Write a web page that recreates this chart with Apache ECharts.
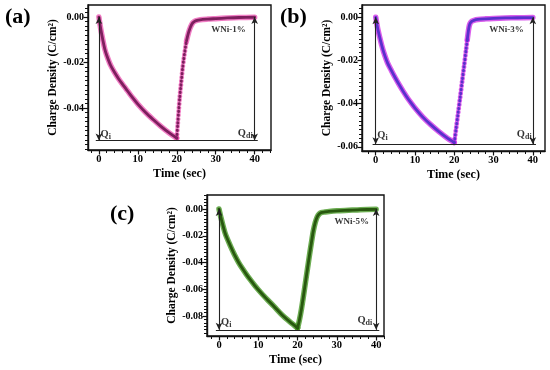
<!DOCTYPE html>
<html><head><meta charset="utf-8">
<script src="https://cdn.jsdelivr.net/npm/echarts@6/dist/echarts.min.js"></script>
<style>html,body{margin:0;padding:0;background:#fff}#c{width:550px;height:370px}</style>
</head><body><div id="c"></div>
<script>
// ---- data ----
const chargeTimes = [0,0.5,1,1.5,2,3,4,5,6,7,8,9,10,12,14,16,18,20];
const chargeA = [0,-0.0055,-0.0100,-0.0140,-0.0168,-0.0212,-0.0243,-0.0270,-0.0294,-0.0317,-0.0340,-0.0362,-0.0383,-0.0420,-0.0452,-0.0482,-0.0509,-0.0533];
const chargeB = [0,-0.0052,-0.0092,-0.0128,-0.0160,-0.0211,-0.0247,-0.0281,-0.0313,-0.0343,-0.0371,-0.0396,-0.0420,-0.0462,-0.0497,-0.0528,-0.0556,-0.0580];
const chargeC = [0,-0.0065,-0.0122,-0.0175,-0.0215,-0.0282,-0.0345,-0.0400,-0.0447,-0.0490,-0.0530,-0.0568,-0.0603,-0.0668,-0.0728,-0.0790,-0.0842,-0.0890];

const riseTimesA = [20,20.25,20.5,20.75,21,21.25,21.5,21.75,22,22.25,22.5];
const riseA = [-0.0533,-0.0470,-0.0410,-0.0355,-0.0310,-0.0268,-0.0225,-0.0190,-0.0160,-0.0130,-0.0105];
const recTimesA = [22.5,23,23.5,24,24.5,25,26,28,30,33,36,40];
const recA = [-0.0105,-0.0070,-0.0045,-0.0028,-0.0020,-0.0016,-0.0012,-0.0009,-0.0007,-0.0004,-0.0002,-0.0001];

const riseTimesB = [20,20.5,21,21.5,22,22.5,23,23.3];
const riseB = [-0.0580,-0.0510,-0.0440,-0.0370,-0.0297,-0.0225,-0.0150,-0.0105];
const recTimesB = [23.3,23.5,23.75,24,24.25,24.5,25,26,28,30,33,36,40];
const recB = [-0.0105,-0.0075,-0.0045,-0.0029,-0.0022,-0.0018,-0.0014,-0.0010,-0.0007,-0.0005,-0.0003,-0.0002,-0.0001];

const recTimesC = [20,20.5,21,21.5,22,22.5,23,23.5,24,24.5,25,25.5,26,27,28,30,33,36,40];
const recC = [-0.0890,-0.0825,-0.0745,-0.0650,-0.0550,-0.0450,-0.0350,-0.0255,-0.0165,-0.0100,-0.0058,-0.0037,-0.0027,-0.0022,-0.0018,-0.0013,-0.0009,-0.0005,-0.0002];

const xTickLabels = [0,10,20,30,40];
const yTickLabelsA = [0,-0.02,-0.04];
const yTickLabelsB = [0,-0.02,-0.04,-0.06];
const yTickLabelsC = [0,-0.02,-0.04,-0.06,-0.08];
const baseLevels = [-0.0543,-0.0588,-0.0903];   // horizontal Qi-Qdi line
const sampleNames = ['WNi-1%','WNi-3%','WNi-5%'];
const panelLetters = ['(a)','(b)','(c)'];

// ---- helpers ----
const zip = (ts, vs) => ts.map((t, i) => [t, vs[i]]);
const FONT = 'Liberation Serif';
function range(a, b, step) { const out = []; const s = Math.ceil(a / step - 1e-9); const e = Math.floor(b / step + 1e-9); for (let k = s; k <= e; k++) out.push(+(k * step).toFixed(6)); return out; }

const panels = [
  { grid:{left:88, top:5, width:183, height:145}, x:[-2.8,44.2], y:[-0.0585,0.0053], yTicks:yTickLabelsA, yMinor:0.002, nameGap:29,
    halo:'rgba(232,55,165,0.65)', core:'#7e1f5e',
    segs:[{d:zip(chargeTimes,chargeA)},{d:zip(riseTimesA,riseA),dotted:true},{d:zip(recTimesA,recA)}],
    qi:[0.4,-0.0516], qdi:[39.5,-0.0510], tag:[33.3,-0.0057] },
  { grid:{left:362, top:5, width:183, height:146}, x:[-3.5,43.1], y:[-0.0619,0.0057], yTicks:yTickLabelsB, yMinor:0.002, nameGap:27,
    halo:'rgba(205,40,230,0.75)', core:'#5a30cc',
    segs:[{d:zip(chargeTimes,chargeB)},{d:zip(riseTimesB,riseB),dotted:true},{d:zip(recTimesB,recB)}],
    qi:[0.4,-0.0546], qdi:[39.7,-0.0541], tag:[33.3,-0.0056] },
  { grid:{left:207, top:195, width:177, height:141}, x:[-3.06,42.0], y:[-0.0949,0.0105], yTicks:yTickLabelsC, yMinor:0.0025, nameGap:29,
    halo:'rgba(60,145,25,0.75)', core:'#28580f',
    segs:[{d:zip(chargeTimes,chargeC)},{d:zip(recTimesC,recC)}],
    qi:[0.5,-0.0845], qdi:[39.0,-0.0830], tag:[33.8,-0.0095] }
];

const grids = [], xAxes = [], yAxes = [], series = [], graphics = [];
const txt = { fontFamily:FONT, fontWeight:'bold', color:'#000' };
panels.forEach((p, i) => {
  grids.push(Object.assign({ show:true, borderColor:'#111', borderWidth:1.4, backgroundColor:'#fff' }, p.grid));
  const xi = xAxes.length, yi = yAxes.length;
  xAxes.push({ gridIndex:i, type:'value', min:p.x[0], max:p.x[1], position:'bottom',
    axisLine:{show:true, onZero:false, lineStyle:{color:'#111', width:1.4}},
    axisTick:{show:true, customValues:xTickLabels, length:4.5, lineStyle:{color:'#111', width:1.2}},
    axisLabel:Object.assign({ customValues:xTickLabels, fontSize:10.5, margin:4 }, txt),
    splitLine:{show:false},
    name:'Time (sec)', nameLocation:'middle', nameGap:18, nameTextStyle:Object.assign({fontSize:12}, txt) });
  xAxes.push({ gridIndex:i, type:'value', min:p.x[0], max:p.x[1], position:'bottom', offset:0,
    axisLine:{show:false, onZero:false}, axisTick:{show:true, customValues:range(p.x[0], p.x[1], 2).filter(v => v % 10 !== 0), length:3, lineStyle:{color:'#111', width:1}},
    axisLabel:{show:false}, splitLine:{show:false} });
  yAxes.push({ gridIndex:i, type:'value', min:p.y[0], max:p.y[1], position:'left',
    axisLine:{show:true, onZero:false, lineStyle:{color:'#111', width:1.4}},
    axisTick:{show:true, customValues:p.yTicks, length:4.5, lineStyle:{color:'#111', width:1.2}},
    axisLabel:Object.assign({ customValues:p.yTicks, fontSize:10, margin:4, formatter:v => v.toFixed(2) }, txt),
    splitLine:{show:false},
    name:'Charge Density (C/cm²)', nameLocation:'middle', nameGap:p.nameGap, nameRotate:90,
    nameTextStyle:Object.assign({fontSize:11.5}, txt) });
  yAxes.push({ gridIndex:i, type:'value', min:p.y[0], max:p.y[1], position:'left', offset:0,
    axisLine:{show:false, onZero:false}, axisTick:{show:true, customValues:range(p.y[0], p.y[1], p.yMinor), length:3, lineStyle:{color:'#111', width:1}},
    axisLabel:{show:false}, splitLine:{show:false} });

  const base = baseLevels[i];
  series.push({ type:'line', xAxisIndex:xi, yAxisIndex:yi, data:[], silent:true, z:1,
    markLine:{ silent:true, animation:false, label:{show:false}, emphasis:{disabled:true},
      lineStyle:{color:'#222', width:1.1, type:'solid'}, symbolSize:[5,7],
      data:[
        [{coord:[0,0], symbol:'arrow'},{coord:[0,base], symbol:'arrow'}],
        [{coord:[40,0], symbol:'arrow'},{coord:[40,base], symbol:'arrow'}],
        [{coord:[-0.8,base], symbol:'none'},{coord:[40.8,base], symbol:'none'}]
      ] } });
  p.segs.forEach(s => {
    const dash = s.dotted ? [0.5,3.3] : 'solid';
    series.push({ type:'line', xAxisIndex:xi, yAxisIndex:yi, data:s.d, smooth:0.3, showSymbol:false, silent:true, z:3,
      lineStyle:{color:p.halo, width:s.dotted ? 4.8 : 5.5, type:dash, cap:'round', join:'round'} });
    series.push({ type:'line', xAxisIndex:xi, yAxisIndex:yi, data:s.d, smooth:0.3, showSymbol:false, silent:true, z:4,
      lineStyle:{color:p.core, width:2.8, type:dash, cap:'round', join:'round'} });
  });
  const rich = { q:Object.assign({fontSize:10.5}, txt), s:Object.assign({fontSize:8, padding:[5,0,0,0]}, txt), t:Object.assign({fontSize:9}, txt) };
  series.push({ type:'scatter', xAxisIndex:xi, yAxisIndex:yi, symbolSize:0, silent:true, z:6,
    data:[ {value:p.qi, label:{position:'right', distance:0, formatter:'{q|Q}{s|i}'}},
           {value:p.qdi, label:{position:'left', distance:0, formatter:'{q|Q}{s|di}'}},
           {value:p.tag, label:{position:'inside', formatter:'{t|' + sampleNames[i] + '}'}} ],
    label:{show:true, rich:rich} });
  graphics.push({ type:'text', left: [5, 280, 110][i], top: [6, 6, 203][i],
    style:{ text:panelLetters[i], font:'bold 22px "Liberation Serif"', fill:'#000' } });
});

const chart = echarts.init(document.getElementById('c'), null, {renderer:'canvas'});
chart.setOption({ animation:false, backgroundColor:'#fff', grid:grids, xAxis:xAxes, yAxis:yAxes, series:series, graphic:graphics });
</script></body></html>
